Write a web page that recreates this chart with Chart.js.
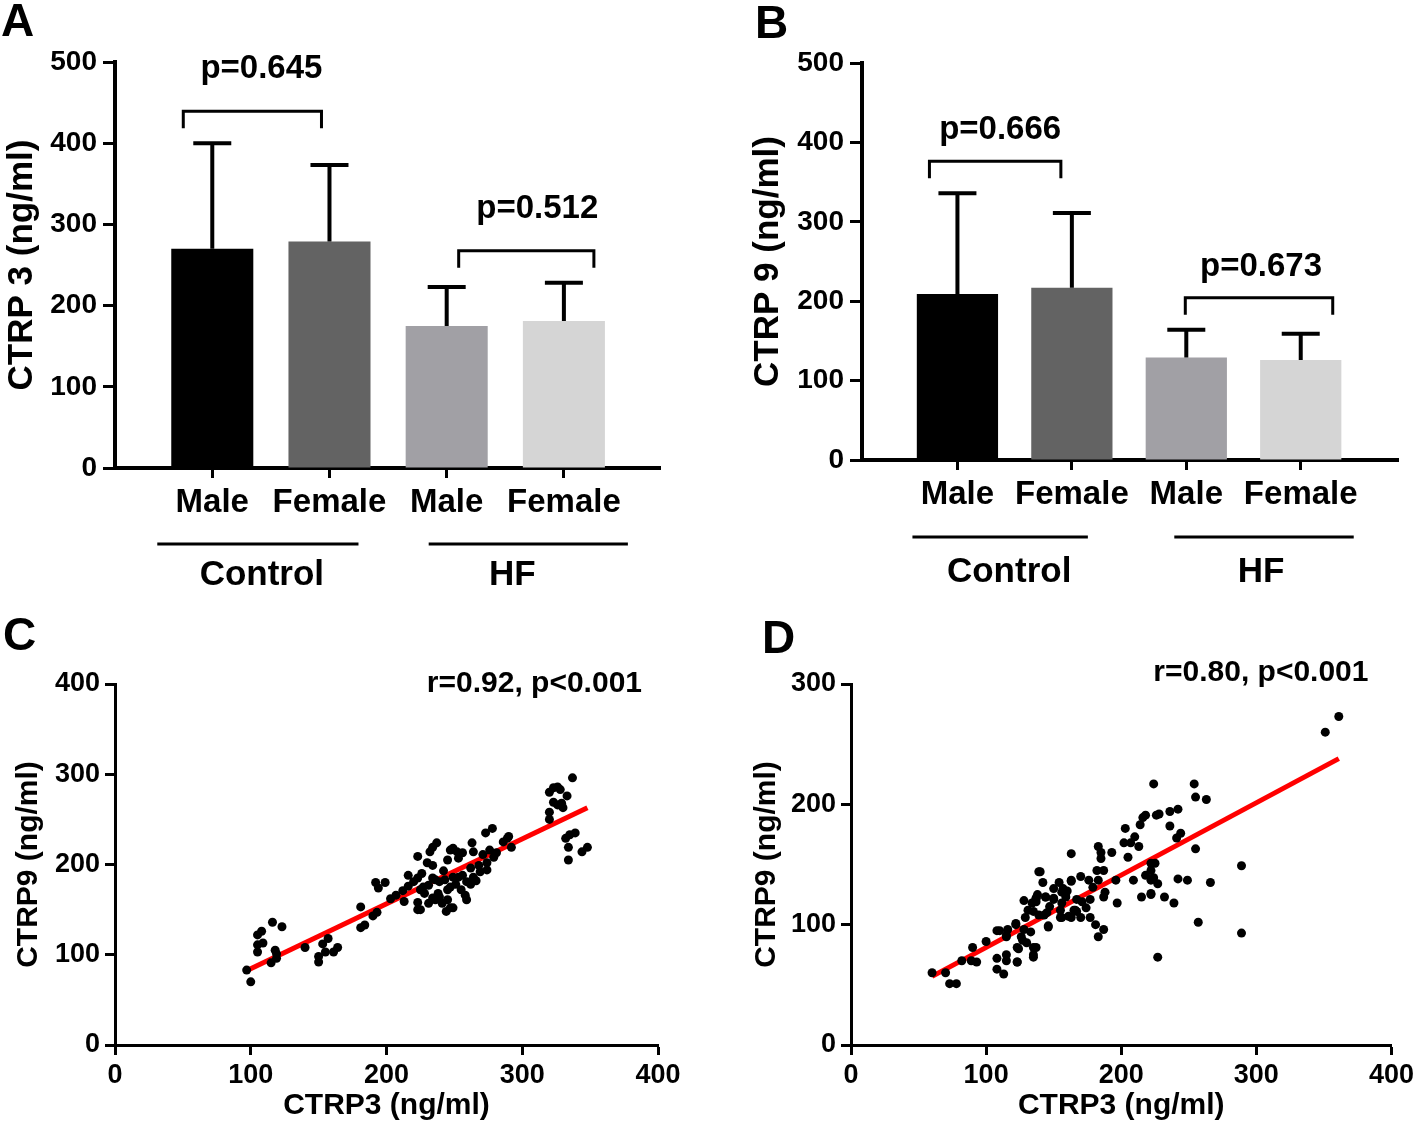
<!DOCTYPE html>
<html>
<head>
<meta charset="utf-8">
<script src="https://cdn.jsdelivr.net/npm/chart.js@4.4.1/dist/chart.umd.min.js"></script>
<style>
  body { margin: 0; background: #fff; }
  #wrap { position: relative; width: 1418px; height: 1127px; overflow: hidden; }
  canvas { position: absolute; }
  .tag { position: absolute; font: bold 46px 'Liberation Sans', Arial, sans-serif; line-height: 46px; color: #000; }
</style>
</head>
<body>
<div id="wrap">
  <canvas id="panelA" width="709" height="600" style="left:0;top:0"></canvas>
  <canvas id="panelB" width="709" height="600" style="left:709px;top:0"></canvas>
  <canvas id="panelC" width="709" height="527" style="left:0;top:600px"></canvas>
  <canvas id="panelD" width="709" height="527" style="left:709px;top:600px"></canvas>
  <div class="tag" style="left:1px;top:-3px">A</div>
  <div class="tag" style="left:755px;top:-1px">B</div>
  <div class="tag" style="left:3px;top:611px">C</div>
  <div class="tag" style="left:762px;top:614px">D</div>
</div>
<script>
// bar panels
const sexLabels = ['Male', 'Female', 'Male', 'Female'];
const groupLabels = ['Control', 'HF'];
const barColors = ['#000000', '#636363', '#a1a0a5', '#d5d5d5'];
const ctrp3Mean = [270, 279, 175, 181];
const ctrp3Sd = [130, 94, 48, 47];
const ctrp9Mean = [209, 217, 129, 126];
const ctrp9Sd = [127, 94, 35, 33];
const pCtrp3 = ['p=0.645', 'p=0.512'];
const pCtrp9 = ['p=0.666', 'p=0.673'];

// scatter panel C
const c3 = [97,100,116,123,105,108,105,109,105,118,119,119,115,140,150,150,153,157,155,161,164,181,181,184,190,193,
  192,199,194,203,212,216,223,234,237,232,220,223,225,227,228,231,234,236,239,243,245,247,249,253,256,259,
  223,223,225,234,236,239,241,245,247,249,258,259,230,234,245,247,249,252,253,256,263,264,262,264,269,271,274,274,
  273,278,276,281,279,286,289,290,292,320,323,326,328,333,337,323,326,329,330,320,320,332,335,339,334,334,344,348,
  226,242,238,251,255,262,266,268,216,231,244,213,207];
const c9 = [83,70,136,131,122,126,111,113,103,105,101,96,91,108,98,92,112,118,103,103,108,153,130,133,143,147,
  180,180,174,162,171,188,209,219,224,214,181,185,172,175,168,177,185,183,181,183,172,175,186,186,188,181,
  158,150,150,163,161,164,157,161,152,152,166,161,202,199,205,216,218,214,207,213,224,214,196,186,192,211,202,194,
  235,240,216,213,208,225,229,231,219,280,285,286,283,276,296,269,266,268,263,258,250,229,233,235,219,205,214,219,
  190,193,168,178,172,178,182,199,176,157,148,159,166];
const fitC3 = [98, 348];
const fitC9 = [83, 263];

// scatter panel D
const d3 = [60,70,73,78,82,89,93,90,100,108,108,115,115,108,113,123,116,122,115,124,126,128,129,130,133,135,135,137,138,139,135,
  163,140,142,144,150,154,157,159,163,165,146,123,127,137,135,123,110,115,122,134,137,139,143,156,156,163,167,
  163,170,176,183,183,185,185,182,187,193,196,203,202,205,207,210,213,214,216,218,226,209,215,218,222,222,225,
  197,187,188,179,177,177,174,171,167,170,166,181,183,187,156,155,155,161,146,137,144,150,
  224,254,255,263,228,236,242,236,244,241,255,289,222,222,224,227,242,249,266,222,232,239,257,289,227,351,361,
  147,150,160,145,131,128];
const d9 = [60,60,51,51,70,70,69,81,86,95,72,75,70,63,59,69,96,101,90,80,90,96,106,85,94,111,81,119,125,144,75,
  159,144,135,123,121,135,130,123,136,112,99,81,87,81,73,69,95,91,100,118,122,108,108,118,106,106,111,
  137,140,137,137,165,160,155,145,145,160,137,180,168,156,168,173,165,183,189,191,191,137,123,141,137,125,151,
  118,123,127,131,121,106,114,119,121,106,112,100,90,96,127,112,106,107,98,122,123,122,
  217,217,206,204,192,194,196,182,176,172,163,149,151,145,139,134,138,137,135,126,123,118,102,93,73,260,273,
  115,130,128,110,112,120];
const fitD3 = [60, 361];
const fitD9 = [57, 238];

const FONT = "'Liberation Sans', Arial, sans-serif";
Chart.defaults.font.family = FONT;
Chart.defaults.font.weight = 'bold';
Chart.defaults.color = '#000';

const barExtras = {
  id: 'barExtras',
  afterDatasetsDraw(chart, args, opts) {
    const ctx = chart.ctx;
    const xs = chart.scales.x, ys = chart.scales.y;
    const ds = chart.data.datasets[0];
    const bars = chart.getDatasetMeta(0).data;
    const tops = ds.data.map((d, i) => ys.getPixelForValue(d.y + ds.sd[i]));
    ctx.save();
    ctx.strokeStyle = '#000';
    ctx.fillStyle = '#000';
    ctx.lineWidth = 4;
    bars.forEach((b, i) => {
      ctx.beginPath();
      ctx.moveTo(b.x, b.y);
      ctx.lineTo(b.x, tops[i]);
      ctx.moveTo(b.x - 19, tops[i]);
      ctx.lineTo(b.x + 19, tops[i]);
      ctx.stroke();
    });
    ctx.lineWidth = 3;
    ctx.textAlign = 'center';
    ctx.textBaseline = 'middle';
    ctx.font = 'bold 33px ' + FONT;
    opts.brackets.forEach((br, k) => {
      const x1 = xs.getPixelForValue(br.from) + br.dx1;
      const x2 = xs.getPixelForValue(br.to) + br.dx2;
      const top = Math.min(tops[br.from], tops[br.to]);
      const yb = top - 32, ye = top - 15;
      ctx.beginPath();
      ctx.moveTo(x1, ye); ctx.lineTo(x1, yb); ctx.lineTo(x2, yb); ctx.lineTo(x2, ye);
      ctx.stroke();
      ctx.fillText(opts.pTexts[k], (x1 + x2) / 2 + br.tx, yb - opts.textGap);
    });
    ctx.font = 'bold 35px ' + FONT;
    const base = chart.chartArea.bottom;
    opts.groups.forEach((g, k) => {
      const x1 = xs.getPixelForValue(g.from) + g.dx1;
      const x2 = xs.getPixelForValue(g.to) + g.dx2;
      ctx.beginPath();
      ctx.moveTo(x1, base + opts.lineDrop);
      ctx.lineTo(x2, base + opts.lineDrop);
      ctx.stroke();
      ctx.fillText(groupLabels[k], (x1 + x2) / 2 + g.tx, base + opts.textDrop);
    });
    ctx.restore();
  }
};

function barChart(id, means, sds, yTitle, pTexts, geo) {
  return new Chart(document.getElementById(id), {
    type: 'bar',
    data: {
      datasets: [{
        data: means.map((v, i) => ({ x: i, y: v })),
        sd: sds,
        backgroundColor: barColors,
        borderWidth: 0,
        barPercentage: geo.barPct,
        categoryPercentage: 1
      }]
    },
    options: {
      responsive: false,
      animation: false,
      layout: { padding: { left: 0, right: geo.padRight, top: geo.padTop, bottom: 0 } },
      plugins: {
        legend: { display: false },
        tooltip: { enabled: false },
        barExtras: {
          pTexts: pTexts,
          brackets: geo.brackets,
          groups: geo.groups,
          textGap: geo.textGap,
          lineDrop: geo.lineDrop,
          textDrop: geo.textDrop
        }
      },
      scales: {
        x: {
          type: 'linear',
          min: geo.xMin,
          max: geo.xMax,
          offset: false,
          afterBuildTicks: s => { s.ticks = sexLabels.map((_, i) => ({ value: i })); },
          afterFit: s => { s.height = geo.xHeight; },
          ticks: {
            autoSkip: false, maxRotation: 0, padding: geo.xPad,
            font: { size: 33, weight: 'bold' },
            callback: v => sexLabels[v]
          },
          grid: { offset: false, drawOnChartArea: false, tickLength: 10, tickWidth: 3, tickColor: '#000' },
          border: { color: '#000', width: 4 }
        },
        y: {
          min: 0, max: 500,
          afterFit: s => { s.width = geo.yWidth; },
          ticks: { stepSize: 100, padding: 6, font: { size: 28, weight: 'bold' } },
          grid: { drawOnChartArea: false, tickLength: 12, tickWidth: 3, tickColor: '#000' },
          border: { color: '#000', width: 4 },
          title: { display: true, text: yTitle, font: { size: 35, weight: 'bold' }, padding: { top: geo.titlePad, bottom: 0 } }
        }
      }
    },
    plugins: [barExtras]
  });
}

barChart('panelA', ctrp3Mean, ctrp3Sd, 'CTRP 3 (ng/ml)', pCtrp3, {
  barPct: 0.7, xMin: -0.83, xMax: 3.82, padRight: 49, padTop: 62, xHeight: 132, yWidth: 115,
  xPad: 5, titlePad: 1, textGap: 42, lineDrop: 76, textDrop: 107,
  brackets: [{ from: 0, to: 1, dx1: -29, dx2: -8, tx: 9 }, { from: 2, to: 3, dx1: 12, dx2: 30, tx: 11 }],
  groups: [{ from: 0, to: 1, dx1: -55, dx2: 29, tx: 4 }, { from: 2, to: 3, dx1: -18, dx2: 64, tx: -16 }]
});

barChart('panelB', ctrp9Mean, ctrp9Sd, 'CTRP 9 (ng/ml)', pCtrp9, {
  barPct: 0.71, xMin: -0.834, xMax: 3.85, padRight: 20, padTop: 63, xHeight: 140, yWidth: 153,
  xPad: 5, titlePad: 38, textGap: 31, lineDrop: 77, textDrop: 112,
  brackets: [{ from: 0, to: 1, dx1: -28, dx2: -11, tx: 5 }, { from: 2, to: 3, dx1: -1, dx2: 32, tx: 2 }],
  groups: [{ from: 0, to: 1, dx1: -45, dx2: 16, tx: 9 }, { from: 2, to: 3, dx1: -12, dx2: 53, tx: -3 }]
});

const corrText = {
  id: 'corrText',
  afterDraw(chart, args, opts) {
    const ctx = chart.ctx;
    ctx.save();
    ctx.fillStyle = '#000';
    ctx.font = 'bold 30px ' + FONT;
    ctx.textAlign = 'right';
    ctx.textBaseline = 'middle';
    ctx.fillText(opts.text, chart.chartArea.right - opts.dx, chart.chartArea.top + opts.dy);
    ctx.restore();
  }
};

function scatterChart(id, xs, ys, fitX, fitY, yMax, label, geo) {
  return new Chart(document.getElementById(id), {
    type: 'scatter',
    data: {
      datasets: [
        {
          data: xs.map((v, i) => ({ x: v, y: ys[i] })),
          backgroundColor: '#000',
          borderWidth: 0,
          pointRadius: 4.5,
          order: 1
        },
        {
          type: 'line',
          data: fitX.map((v, i) => ({ x: v, y: fitY[i] })),
          borderColor: '#ff0000',
          borderWidth: 5,
          pointRadius: 0,
          showLine: true,
          fill: false,
          order: 2
        }
      ]
    },
    options: {
      responsive: false,
      animation: false,
      layout: { padding: { left: 0, right: geo.padRight, top: 84, bottom: 0 } },
      plugins: {
        legend: { display: false },
        tooltip: { enabled: false },
        corrText: { text: label, dx: geo.tdx, dy: geo.tdy }
      },
      scales: {
        x: {
          type: 'linear', min: 0, max: 400,
          afterFit: s => { s.height = 82; },
          ticks: { stepSize: 100, padding: 4, maxRotation: 0, font: { size: 27, weight: 'bold' } },
          grid: { drawOnChartArea: false, tickLength: 10, tickWidth: 3, tickColor: '#000' },
          border: { color: '#000', width: 3 },
          title: { display: true, text: 'CTRP3 (ng/ml)', font: { size: 30, weight: 'bold' }, padding: { top: 0, bottom: 3 } }
        },
        y: {
          min: 0, max: yMax,
          afterFit: s => { s.width = geo.yWidth; },
          ticks: { stepSize: 100, padding: 5, font: { size: 27, weight: 'bold' } },
          grid: { drawOnChartArea: false, tickLength: 10, tickWidth: 3, tickColor: '#000' },
          border: { color: '#000', width: 3 },
          title: { display: true, text: 'CTRP9 (ng/ml)', font: { size: 30, weight: 'bold' }, padding: { top: geo.titlePad, bottom: 0 } }
        }
      }
    },
    plugins: [corrText]
  });
}

scatterChart('panelC', c3, c9, fitC3, fitC9, 400, 'r=0.92, p<0.001', { padRight: 51, yWidth: 115, titlePad: 11, tdx: 16, tdy: 0 });
scatterChart('panelD', d3, d9, fitD3, fitD9, 300, 'r=0.80, p<0.001', { padRight: 23, yWidth: 142, titlePad: 40, tdx: 23, tdy: -11 });
</script>
</body>
</html>
